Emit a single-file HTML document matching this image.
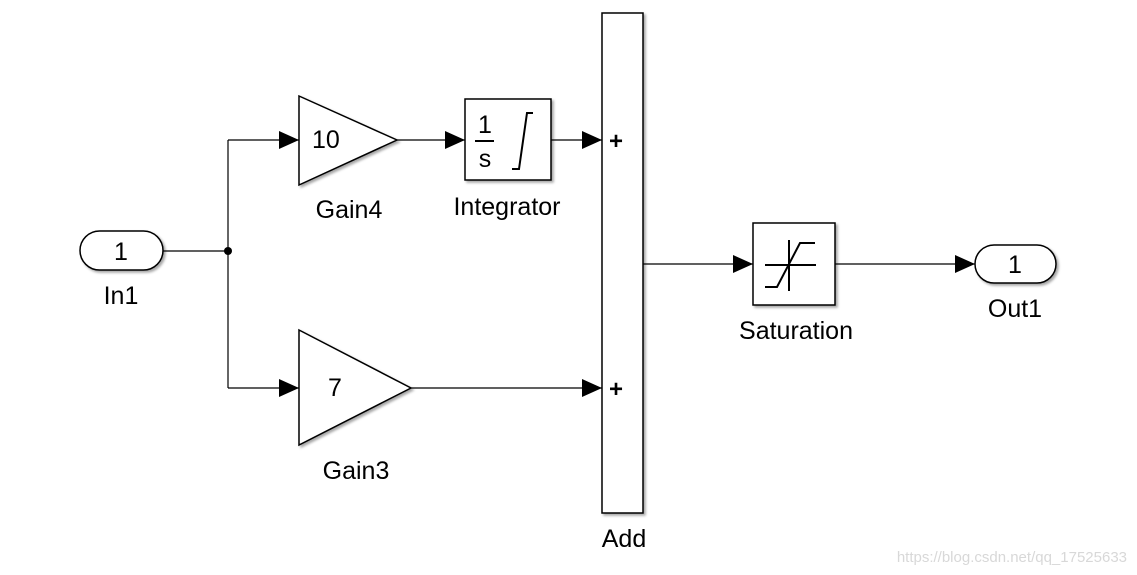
<!DOCTYPE html><html><head><style>body{margin:0;background:#fff}svg{display:block}text{font-family:"Liberation Sans",Arial,sans-serif;fill:#000}</style></head><body>
<svg width="1137" height="575" viewBox="0 0 1137 575">
<defs><filter id="sh" x="-10%" y="-10%" width="130%" height="130%"><feDropShadow dx="2" dy="2" stdDeviation="1.2" flood-color="#000" flood-opacity="0.35"/></filter>
<marker id="a" markerWidth="20" markerHeight="18" refX="20" refY="9" orient="auto" markerUnits="userSpaceOnUse"><path d="M0,0 L20,9 L0,18 Z" fill="#000"/></marker></defs>
<g fill="#fff" stroke="#000" stroke-width="1.5" filter="url(#sh)">
<rect x="80" y="231" width="83" height="39" rx="19.5"/>
<polygon points="299,96 397,140 299,185"/>
<rect x="465" y="99" width="86" height="81"/>
<polygon points="299,330 411,388 299,445"/>
<rect x="602" y="13" width="41" height="500"/>
<rect x="753" y="223" width="82" height="82"/>
<rect x="975" y="245" width="81" height="38" rx="19"/>
</g>
<g stroke="#000" stroke-width="1.2" fill="none">
<line x1="163" y1="251" x2="228" y2="251"/>
<polyline points="228,140 228,388"/>
<polyline points="228,140 299,140" marker-end="url(#a)"/>
<polyline points="228,388 299,388" marker-end="url(#a)"/>
<line x1="397" y1="140" x2="465" y2="140" marker-end="url(#a)"/>
<line x1="551" y1="140" x2="602" y2="140" marker-end="url(#a)"/>
<line x1="411" y1="388" x2="602" y2="388" marker-end="url(#a)"/>
<line x1="643" y1="264" x2="753" y2="264" marker-end="url(#a)"/>
<line x1="835" y1="264" x2="975" y2="264" marker-end="url(#a)"/>
</g>
<circle cx="228" cy="251" r="4" fill="#000"/>
<g stroke="#000" stroke-width="2" fill="none">
<line x1="475" y1="141" x2="494" y2="141"/>
<polyline points="512,169 519,169 527,113 533,113"/>
<line x1="765" y1="265" x2="816" y2="265"/>
<line x1="789" y1="240" x2="789" y2="291"/>
<polyline points="765,287 777,287 800,243 815,243"/>
</g>
<g font-size="25">
<text x="121" y="260" text-anchor="middle">1</text>
<text x="121" y="304" text-anchor="middle">In1</text>
<text x="312" y="148">10</text>
<text x="349" y="218" text-anchor="middle">Gain4</text>
<text x="485" y="133" text-anchor="middle">1</text>
<text x="485" y="167" text-anchor="middle">s</text>
<text x="507" y="215" text-anchor="middle">Integrator</text>
<text x="328" y="396">7</text>
<text x="356" y="479" text-anchor="middle">Gain3</text>
<text x="624" y="547" text-anchor="middle">Add</text>
<text x="796" y="339" text-anchor="middle">Saturation</text>
<text x="1015" y="273" text-anchor="middle">1</text>
<text x="1015" y="317" text-anchor="middle">Out1</text>
</g>
<text x="609" y="149" font-size="24" font-weight="bold">+</text>
<text x="609" y="397" font-size="24" font-weight="bold">+</text>
<text x="1127" y="562" font-size="15" text-anchor="end" style="fill:#d8d8d8">https://blog.csdn.net/qq_17525633</text>
</svg></body></html>
